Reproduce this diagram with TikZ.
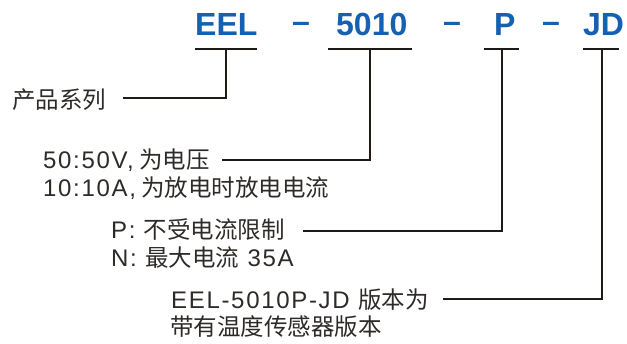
\documentclass[tikz,border=0pt]{standalone}
\usepackage{fontspec}
\setmainfont{Liberation Sans}
\newfontfamily\lat[LetterSpace=7]{Liberation Sans}
\newfontfamily\cjk{Noto Sans CJK SC}
\newcommand\zh[1]{{\cjk\fontsize{23.5}{24}\selectfont #1}}
\definecolor{hblue}{HTML}{1560B0}
\definecolor{tgray}{HTML}{2E2A28}
\definecolor{lblack}{HTML}{1E1A18}
\begin{document}
\begin{tikzpicture}[x=1pt,y=-1pt,
  head/.style={inner sep=0pt,anchor=base west,text=hblue,font=\fontsize{32}{32}\selectfont\bfseries},
  desc/.style={inner sep=0pt,anchor=base west,text=tgray,font=\lat\fontsize{24}{24}\selectfont},
  conn/.style={draw=lblack,line width=2pt},
  tbar/.style={draw=lblack,line width=2pt}]
\useasboundingbox (0,0) rectangle (627,343);
% header
\node[head] (h1) at (195,35) {EEL};
\node[head] (d1) at (292,32) {–};
\node[head] (h2) at (336,35) {5010};
\node[head] (d2) at (443,32) {–};
\node[head] (h3) at (494,35) {P};
\node[head] (d3) at (542,32) {–};
\node[head] (h4) at (583,35) {JD};
% T bars
\coordinate (b1l) at (195,49); \coordinate (b1r) at (257,49); \coordinate (s1) at (226,49);
\coordinate (b2l) at (328,49); \coordinate (b2r) at (412,49); \coordinate (s2) at (370,49);
\coordinate (b3l) at (484,49); \coordinate (b3r) at (519,49); \coordinate (s3) at (502,49);
\coordinate (b4l) at (583,49); \coordinate (b4r) at (619,49); \coordinate (s4) at (602,49);
\draw[tbar] (b1l) -- (b1r);
\draw[tbar] (b2l) -- (b2r);
\draw[tbar] (b3l) -- (b3r);
\draw[tbar] (b4l) -- (b4r);
% descriptions
\node[desc] (t1) at (12,108) {\zh{产品系列}};
\node[desc] (t2a) at (43,168) {50:50V,\zh{\ 为电压}};
\node[desc] (t2b) at (43,196) {10:10A,\zh{\ 为放电时放电电流}};
\node[desc] (t3a) at (111,238) {P: \zh{不受电流限制}};
\node[desc] (t3b) at (111,266) {N: \zh{最大电流} 35A};
\node[desc] (t4a) at (171,308) {EEL-5010P-JD \zh{版本为}};
\node[desc] (t4b) at (170,335) {\zh{带有温度传感器版本}};
% connector ends
\coordinate (e1) at (123,98);
\coordinate (e2) at (222,160);
\coordinate (e3) at (303,231);
\coordinate (e4) at (443,299);
\draw[conn] (s1) |- (e1);
\draw[conn] (s2) |- (e2);
\draw[conn] (s3) |- (e3);
\draw[conn] (s4) |- (e4);
\end{tikzpicture}
\end{document}
